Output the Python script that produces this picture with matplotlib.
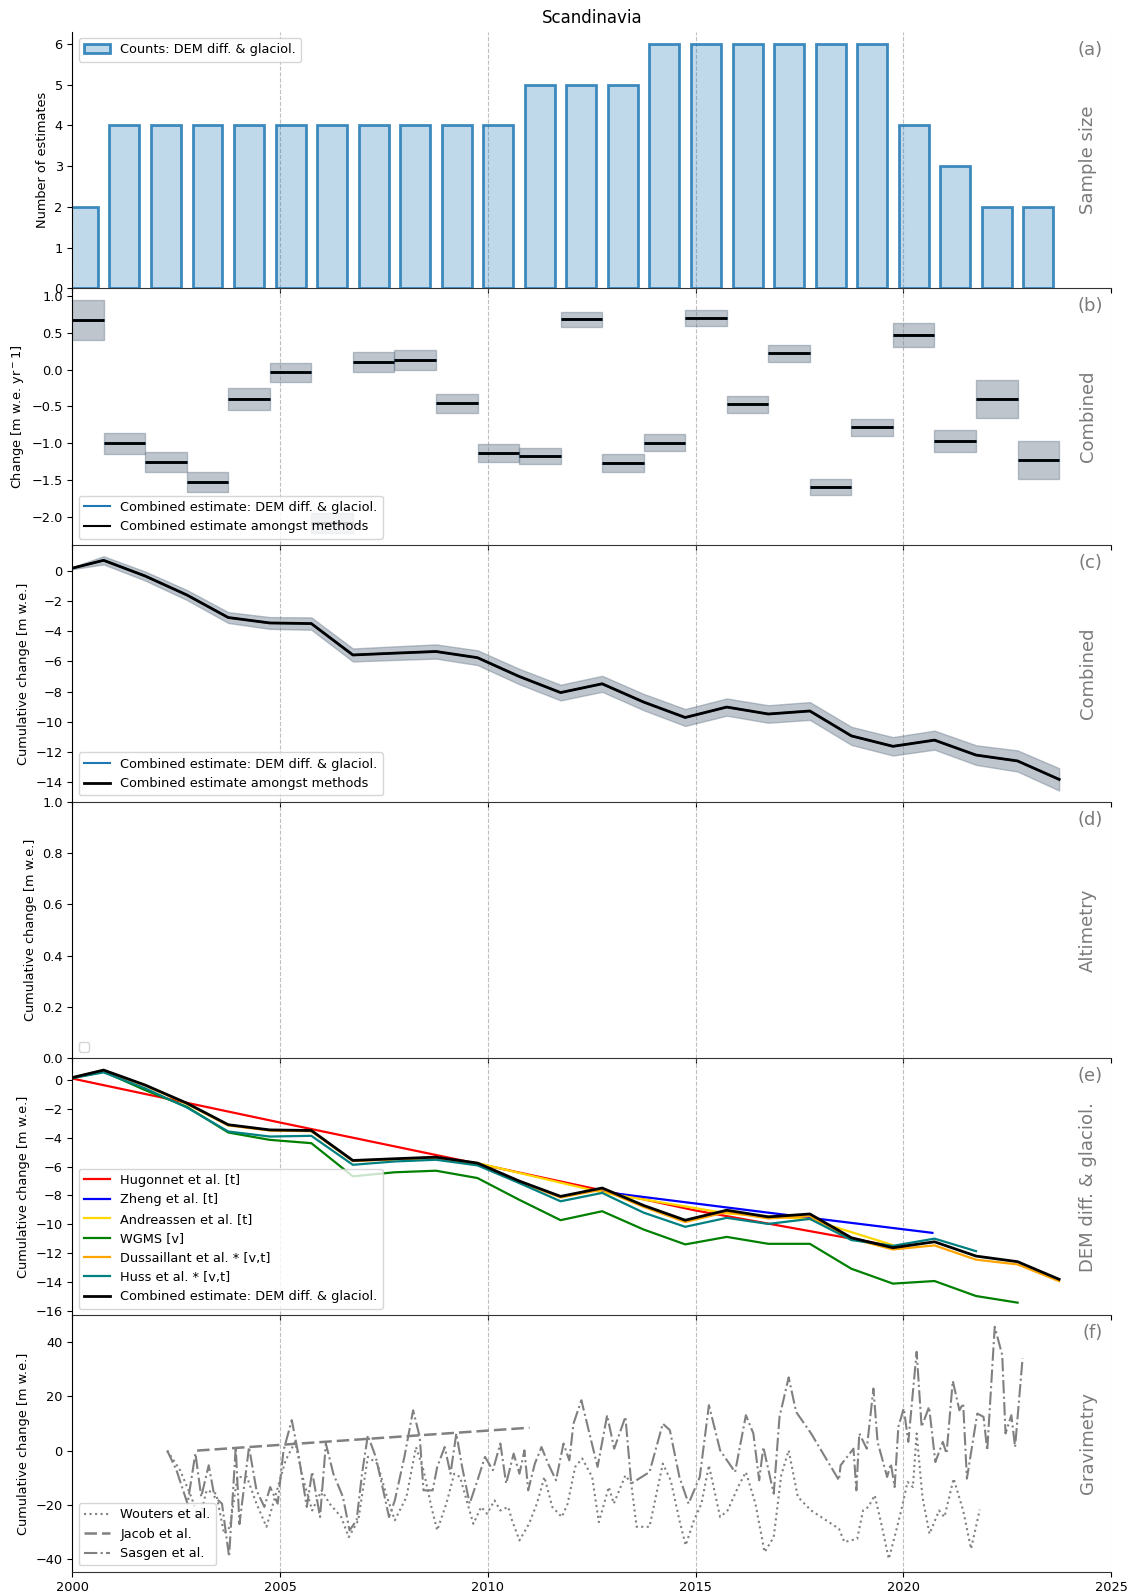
import matplotlib
matplotlib.use('Agg')
import matplotlib.pyplot as plt
import numpy as np

plt.rcParams['font.size'] = 9.3

# hydrological years (Oct-Sep), value attached to the year ending in Sep
years = np.arange(2000, 2024)
counts = [2, 4, 4, 4, 4, 4, 4, 4, 4, 4, 4, 5, 5, 5, 6, 6, 6, 6, 6, 6, 4, 3, 2, 2]

rate = [0.67, -1.00, -1.25, -1.52, -0.40, -0.04, -2.08, 0.10, 0.13, -0.46, -1.13, -1.17,
        0.68, -1.27, -0.99, 0.70, -0.47, 0.22, -1.59, -0.78, 0.47, -0.97, -0.40, -1.23]
rate_unc = [0.27, 0.14, 0.135, 0.135, 0.15, 0.13, 0.13, 0.135, 0.13, 0.13, 0.125, 0.11,
            0.105, 0.12, 0.115, 0.11, 0.115, 0.115, 0.11, 0.115, 0.16, 0.15, 0.255, 0.255]

# cumulative series at 1999.75 ... 2023.75
cum_t = np.arange(1999.75, 2024, 1.0)
combined_cum = [0, 0.69, -0.35, -1.6, -3.1, -3.46, -3.5, -5.58, -5.46, -5.35, -5.76, -7.0, -8.07,
                -7.49, -8.7, -9.72, -9.03, -9.49, -9.29, -10.94, -11.63, -11.22, -12.21, -12.6, -13.82]
combined_unc = [0, 0.27, 0.30, 0.33, 0.36, 0.39, 0.41, 0.43, 0.45, 0.47, 0.49, 0.51, 0.52,
                0.53, 0.54, 0.56, 0.57, 0.58, 0.59, 0.60, 0.61, 0.63, 0.65, 0.70, 0.74]

hugonnet_t = [2000.0, 2005.0, 2010.0, 2015.0, 2020.0]
hugonnet = [0.1, -2.95, -5.95, -9.05, -11.65]
zheng_t = [2012.75, 2016.75, 2020.7]
zheng = [-7.75, -9.2, -10.6]
andreassen_t = [1999.75, 2000.75, 2001.75, 2002.75, 2003.75, 2004.75, 2005.75, 2006.75, 2007.75,
                2008.75, 2009.75, 2012.75, 2015.75, 2017.75, 2019.75]
andreassen = [0, 0.67, -0.36, -1.62, -3.12, -3.48, -3.52, -5.6, -5.48, -5.37, -5.76,
              -7.8, -9.25, -9.65, -11.45]
wgms = [0, 0.58, -0.7, -1.85, -3.64, -4.15, -4.38, -6.68, -6.4, -6.29, -6.8, -8.3, -9.72,
        -9.1, -10.37, -11.4, -10.88, -11.36, -11.36, -13.09, -14.12, -13.94, -14.98, -15.44]
dussaillant = [0, 0.66, -0.38, -1.65, -3.15, -3.5, -3.55, -5.62, -5.5, -5.4, -5.8, -7.05, -8.15,
               -7.6, -8.8, -9.85, -9.15, -9.6, -9.44, -11.0, -11.75, -11.47, -12.46, -12.79, -13.95]
huss = [0, 0.53, -0.58, -1.9, -3.57, -3.92, -3.87, -5.88, -5.65, -5.53, -5.92, -7.14, -8.41,
        -7.83, -9.2, -10.18, -9.56, -9.98, -9.63, -11.1, -11.5, -11.0, -11.87]

wouters = [
    (2002.28, 0), (2002.59, -7.2), (2002.86, -17), (2003.05, -25.6), (2003.23, -14.6),
    (2003.46, -15.8), (2003.65, -30.6), (2003.79, -28), (2003.97, -9.7), (2004.2, -9.7),
    (2004.43, -19.5), (2004.67, -28), (2004.9, -15.8), (2005.13, -3.6), (2005.36, 3.2),
    (2005.54, -9.7), (2005.77, -22), (2006.0, -14.6), (2006.19, -19.5), (2006.47, -24.4),
    (2006.65, -31.8), (2006.88, -25.6), (2007.11, -2.3), (2007.34, -4.8), (2007.57, -17),
    (2007.76, -25.6), (2008.04, -17), (2008.27, 1.3), (2008.45, -7.2), (2008.64, -20.7),
    (2008.78, -29.3), (2009.0, -19.5), (2009.19, -8.5), (2009.33, -9.7), (2009.51, -19.5),
    (2009.65, -26.9), (2009.84, -20.7), (2009.98, -23.2), (2010.16, -18.3), (2010.3, -22),
    (2010.49, -20.7), (2010.58, -25.6), (2010.76, -33), (2010.99, -26.9), (2011.18, -19.5),
    (2011.36, -9.7), (2011.55, -20.7), (2011.78, -24.4), (2011.92, -19.5), (2012.1, -6),
    (2012.27, -2.9), (2012.51, -9.7), (2012.67, -26.3), (2012.91, -13.4), (2013.03, -19.5),
    (2013.31, -9.1), (2013.45, -12.1), (2013.58, -28), (2013.89, -28), (2014.21, -4.8),
    (2014.4, -10.9), (2014.61, -25.6), (2014.76, -34.8), (2014.96, -25.6), (2015.14, -19.5),
    (2015.32, -5.4), (2015.59, -24.4), (2015.77, -22), (2016.04, -12.8), (2016.21, -7.9),
    (2016.44, -19.5), (2016.66, -37.3), (2016.88, -31.8), (2017.06, -9.1), (2017.24, 0.1),
    (2017.46, -17), (2017.78, -22), (2018.45, -28.7), (2018.58, -33.6), (2018.89, -32.4),
    (2019.03, -22), (2019.16, -20.7), (2019.31, -16.4), (2019.47, -26.9), (2019.65, -39.8),
    (2019.83, -29.3), (2019.96, -21.3), (2020.1, -11.5), (2020.23, -13.4), (2020.32, 6.3),
    (2020.46, -17), (2020.63, -30.6), (2020.86, -22), (2020.99, -24.4), (2021.21, -10.3),
    (2021.44, -22), (2021.63, -36.1), (2021.84, -21.7),
]
jacob = [(2003.0, 0.0), (2011.0, 8.4)]
sasgen = [
    (2002.28, 0), (2002.5, -7), (2002.77, -19.5), (2002.96, -1), (2003.1, -17), (2003.28, -5.4),
    (2003.42, -17), (2003.6, -19.5), (2003.77, -39), (2003.93, 1.3), (2004.02, -27),
    (2004.25, 1.3), (2004.43, -14.6), (2004.62, -20.7), (2004.76, -13.4), (2004.94, -19.5),
    (2005.08, 0), (2005.28, 11.2), (2005.45, -2.3), (2005.64, -20.7), (2005.77, -7.8),
    (2005.96, -24.4), (2006.1, 2.6), (2006.28, -8.5), (2006.51, -17), (2006.67, -29.3),
    (2006.84, -25.6), (2006.97, -8.5), (2007.11, 5.6), (2007.3, -2.3), (2007.48, -14.6),
    (2007.62, -24.4), (2007.76, -18.3), (2007.99, -2.3), (2008.2, 14.8), (2008.36, 5),
    (2008.45, -14.6), (2008.67, -14.6), (2008.78, -6), (2008.96, 1.3), (2009.1, -8.5),
    (2009.24, 6.3), (2009.38, -6), (2009.56, -19.5), (2009.75, -10.9), (2009.93, -2.3),
    (2010.12, -7.2), (2010.3, 2.6), (2010.44, -12.1), (2010.62, -1.1), (2010.76, -8.5),
    (2010.88, 0.1), (2010.97, -14.6), (2011.13, -4.8), (2011.29, 1.3), (2011.45, -4.8),
    (2011.64, -10.9), (2011.82, 2.6), (2011.96, -3.6), (2012.06, 9.9), (2012.25, 18.5),
    (2012.64, -6), (2012.87, 13), (2013.04, 0.7), (2013.31, 12.4), (2013.45, -12.1),
    (2013.89, -7.9), (2014.21, 9.9), (2014.38, 7.5), (2014.61, -9.7), (2014.83, -19.5),
    (2015.1, -9.7), (2015.32, 16.7), (2015.59, 0.1), (2015.95, -7.9), (2016.21, 13),
    (2016.39, 6.3), (2016.53, -10.9), (2016.63, 1.3), (2016.88, -15.8), (2017.02, 12.4),
    (2017.24, 26.9), (2017.42, 14.2), (2017.78, 6.3), (2018.45, -10.9), (2018.49, -5.4),
    (2018.8, 0.7), (2018.87, -14.6), (2018.94, 6.3), (2019.12, 0.7), (2019.28, 22.8),
    (2019.38, 3.2), (2019.61, -9.7), (2019.7, -4.8), (2019.79, -13.4), (2019.88, 8.7),
    (2020.01, 15.5), (2020.12, 3.2), (2020.32, 36.3), (2020.44, 8.7), (2020.62, 16.1),
    (2020.77, -4.2), (2020.95, 3.2), (2021.04, -1.1), (2021.19, 25.6), (2021.35, 14.8),
    (2021.44, 17.3), (2021.53, -10.3), (2021.78, 13.6), (2021.93, 12.4), (2022.02, 0.1),
    (2022.2, 45.5), (2022.38, 35.1), (2022.46, 6.3), (2022.6, 13), (2022.69, 1.3),
    (2022.87, 33.9),
]

side_labels = ['Sample size', 'Combined', 'Combined', 'Altimetry', 'DEM diff. & glaciol.', 'Gravimetry']
letters = ['(a)', '(b)', '(c)', '(d)', '(e)', '(f)']
ylab = 'Cumulative change [m w.e.]'

fig, axes = plt.subplots(6, 1, figsize=(11.32, 15.95), sharex=True)
fig.subplots_adjust(left=0.064, right=0.9815, top=0.9801, bottom=0.0146, hspace=0)

box_col = 'slategrey'
blue = '#1f77b4'

# (a) sample size
ax = axes[0]
ax.bar(years + 0.25, counts, width=0.72, facecolor=(0.12, 0.47, 0.71, 0.28),
       edgecolor=(0.12, 0.47, 0.71, 0.85), linewidth=2, label='Counts: DEM diff. & glaciol.')
ax.set_ylim(0, 6.3)
ax.set_ylabel('Number of estimates')
ax.legend(loc='upper left')
ax.set_title('Scandinavia', fontsize=12)

# (b) annual rates
ax = axes[1]
for y, r, u in zip(years, rate, rate_unc):
    ax.fill_between([y - 0.25, y + 0.75], r - u, r + u, color=box_col, alpha=0.45, lw=1)
    ax.hlines(r, y - 0.25, y + 0.75, color=blue, lw=2)
    ax.hlines(r, y - 0.25, y + 0.75, color='black', lw=2)
ax.plot([], [], color=blue, label='Combined estimate: DEM diff. & glaciol.')
ax.plot([], [], color='black', label='Combined estimate amongst methods')
ax.set_ylim(-2.38, 1.1)
ax.set_ylabel('Change [m w.e. yr$^-1$]')
ax.legend(loc='lower left')

# (c) cumulative combined
ax = axes[2]
cc = np.array(combined_cum)
cu = np.array(combined_unc)
ax.fill_between(cum_t, cc - cu, cc + cu, color=box_col, alpha=0.45, lw=1)
ax.plot(cum_t, cc, color=blue, lw=1.5, label='Combined estimate: DEM diff. & glaciol.')
ax.plot(cum_t, cc, color='black', lw=2, label='Combined estimate amongst methods')
ax.set_ylim(-15.3, 1.7)
ax.set_ylabel(ylab)
ax.legend(loc='lower left')

# (d) altimetry: no data
ax = axes[3]
ax.set_ylim(0, 1)
ax.set_ylabel(ylab)
ax.legend(handles=[], loc='lower left')

# (e) DEM differencing & glaciological
ax = axes[4]
ax.plot(hugonnet_t, hugonnet, color='red', lw=1.6, label='Hugonnet et al. [t]')
ax.plot(zheng_t, zheng, color='blue', lw=1.6, label='Zheng et al. [t]')
ax.plot(andreassen_t, andreassen, color='gold', lw=1.6, label='Andreassen et al. [t]')
ax.plot(cum_t[:len(wgms)], wgms, color='green', lw=1.6, label='WGMS [v]')
ax.plot(cum_t, dussaillant, color='orange', lw=1.6, label='Dussaillant et al. * [v,t]')
ax.plot(cum_t[:len(huss)], huss, color='teal', lw=1.6, label='Huss et al. * [v,t]')
ax.plot(cum_t, combined_cum, color='black', lw=2, label='Combined estimate: DEM diff. & glaciol.')
ax.set_ylim(-16.3, 1.5)
ax.set_ylabel(ylab)
ax.legend(loc='lower left')

# (f) gravimetry
ax = axes[5]
wt, wv = np.array(wouters).T
jt, jv = np.array(jacob).T
st, sv = np.array(sasgen).T
ax.plot(wt, wv, color='grey', ls=':', lw=1.5, label='Wouters et al.')
ax.plot(jt, jv, color='grey', ls=(0, (5, 2)), lw=1.8, label='Jacob et al.')
ax.plot(st, sv, color='grey', ls='-.', lw=1.5, label='Sasgen et al.')
ax.set_ylim(-44.5, 49.8)
ax.set_ylabel(ylab)
ax.legend(loc='lower left')

for ax, lab, let in zip(axes, side_labels, letters):
    ax.patch.set_visible(False)
    ax.spines[['top', 'right']].set_visible(False)
    ax.spines['bottom'].set_color('#333333')
    ax.grid(axis='x', ls='--', color='grey', alpha=0.5, lw=0.8)
    ax.set_axisbelow(True)
    ax.text(0.978, 0.5, lab, transform=ax.transAxes, rotation=90, ha='center', va='center',
            fontsize=13, color='#7a7a7a')
    ax.text(0.992, 0.93, let, transform=ax.transAxes, ha='right', va='center',
            fontsize=13, color='#7a7a7a')

axes[-1].set_xlim(2000, 2025)
axes[-1].set_xticks([2000, 2005, 2010, 2015, 2020, 2025])

fig.savefig('out.png', dpi=100)
